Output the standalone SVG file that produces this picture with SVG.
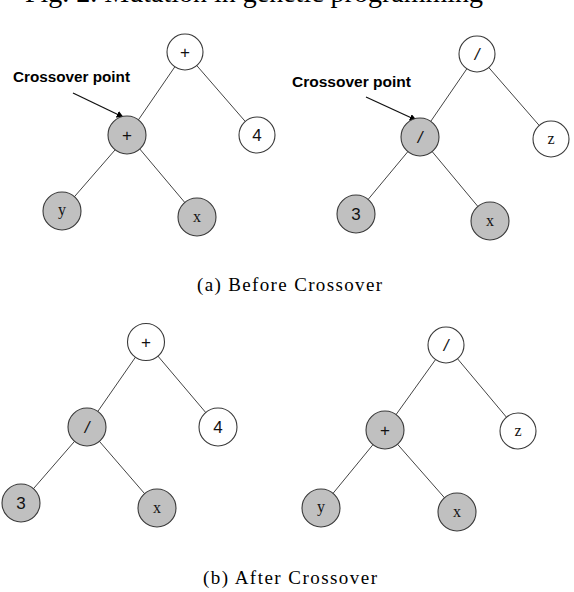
<svg xmlns="http://www.w3.org/2000/svg" width="574" height="592" viewBox="0 0 574 592">
<style>
.n circle{stroke:#3a3a3a;stroke-width:1.1}
.w circle{fill:#ffffff}
.g circle{fill:#c0c0c0}
.s{font-family:"Liberation Sans",Arial,sans-serif;font-size:17px;fill:#111;text-anchor:middle}
.t{font-family:"Liberation Serif","Times New Roman",serif;font-size:16px;fill:#111;text-anchor:middle}
.e line{stroke:#444;stroke-width:1}
.a line{stroke:#111;stroke-width:1.3}
.lbl{font-family:"Liberation Sans",Arial,sans-serif;font-size:14.5px;font-weight:bold;fill:#000}
.cap{font-family:"Liberation Serif","Times New Roman",serif;font-size:19px;fill:#000}
</style>
<defs>
<marker id="ah" viewBox="0 0 10 10" refX="9" refY="5" markerWidth="7" markerHeight="7" orient="auto" markerUnits="userSpaceOnUse">
<path d="M0,0 L10,5 L0,10 z" fill="#000"/>
</marker>
</defs>
<rect width="574" height="592" fill="#fff"/>
<text x="25" y="2" class="cap" style="font-size:28px" textLength="458">Fig. 2. Mutation in genetic programming</text>

<g id="connectors" class="e">
<line x1="185" y1="52" x2="128" y2="135"/>
<line x1="185" y1="52" x2="257" y2="135"/>
<line x1="128" y1="135" x2="62" y2="211"/>
<line x1="128" y1="135" x2="197" y2="217"/>
<line x1="477" y1="54" x2="420" y2="137"/>
<line x1="477" y1="54" x2="551" y2="139"/>
<line x1="420" y1="137" x2="356" y2="214"/>
<line x1="420" y1="137" x2="490" y2="221"/>
<line x1="146" y1="342" x2="87" y2="427"/>
<line x1="146" y1="342" x2="218" y2="427"/>
<line x1="87" y1="427" x2="21" y2="503"/>
<line x1="87" y1="427" x2="157" y2="508"/>
<line x1="446" y1="345" x2="385" y2="430"/>
<line x1="446" y1="345" x2="518" y2="431"/>
<line x1="385" y1="430" x2="321" y2="508"/>
<line x1="385" y1="430" x2="457" y2="512"/>
</g>
<g id="arrows" class="a">
<line x1="73" y1="93" x2="123" y2="117" marker-end="url(#ah)"/>
<line x1="366" y1="97" x2="416" y2="120" marker-end="url(#ah)"/>
</g>

<g id="a-root" class="n w"><circle cx="185" cy="52" r="18"/><text x="185" y="58" class="s">+</text></g>
<g id="a-plus" class="n g"><circle cx="127" cy="135" r="19"/><text x="127" y="141" class="s">+</text></g>
<g id="a-4" class="n w"><circle cx="257" cy="135" r="18"/><text x="257" y="141" class="s">4</text></g>
<g id="a-y" class="n g"><circle cx="62" cy="211" r="19"/><text x="62" y="215" class="t">y</text></g>
<g id="a-x" class="n g"><circle cx="197" cy="217" r="19"/><text x="197" y="222" class="t">x</text></g>

<g id="b-root" class="n w"><circle cx="477" cy="54" r="18"/><text x="477" y="60" class="s" style="font-style:italic">/</text></g>
<g id="b-div" class="n g"><circle cx="420" cy="137" r="19"/><text x="420" y="143" class="s" style="font-style:italic">/</text></g>
<g id="b-z" class="n w"><circle cx="551" cy="139" r="18"/><text x="551" y="144" class="t">z</text></g>
<g id="b-3" class="n g"><circle cx="356" cy="214" r="19"/><text x="356" y="220" class="s">3</text></g>
<g id="b-x" class="n g"><circle cx="490" cy="221" r="19"/><text x="490" y="226" class="t">x</text></g>

<g id="c-root" class="n w"><circle cx="146" cy="342" r="18.5"/><text x="146" y="348" class="s">+</text></g>
<g id="c-div" class="n g"><circle cx="87" cy="427" r="19"/><text x="87" y="433" class="s" style="font-style:italic">/</text></g>
<g id="c-4" class="n w"><circle cx="218" cy="427" r="19"/><text x="218" y="433" class="s">4</text></g>
<g id="c-3" class="n g"><circle cx="21" cy="503" r="19"/><text x="21" y="509" class="s">3</text></g>
<g id="c-x" class="n g"><circle cx="157" cy="508" r="19"/><text x="157" y="513" class="t">x</text></g>

<g id="d-root" class="n w"><circle cx="446" cy="345" r="18"/><text x="446" y="351" class="s" style="font-style:italic">/</text></g>
<g id="d-plus" class="n g"><circle cx="385" cy="430" r="19"/><text x="385" y="436" class="s">+</text></g>
<g id="d-z" class="n w"><circle cx="518" cy="431" r="18"/><text x="518" y="436" class="t">z</text></g>
<g id="d-y" class="n g"><circle cx="321" cy="508" r="19"/><text x="321" y="512" class="t">y</text></g>
<g id="d-x" class="n g"><circle cx="457" cy="512" r="19"/><text x="457" y="517" class="t">x</text></g>

<text x="13" y="82" class="lbl" textLength="117" lengthAdjust="spacingAndGlyphs">Crossover point</text>
<text x="292" y="87" class="lbl" textLength="119" lengthAdjust="spacingAndGlyphs">Crossover point</text>
<text x="197" y="291" class="cap" textLength="185">(a) Before Crossover</text>
<text x="203" y="584" class="cap" textLength="174">(b) After Crossover</text>
</svg>
